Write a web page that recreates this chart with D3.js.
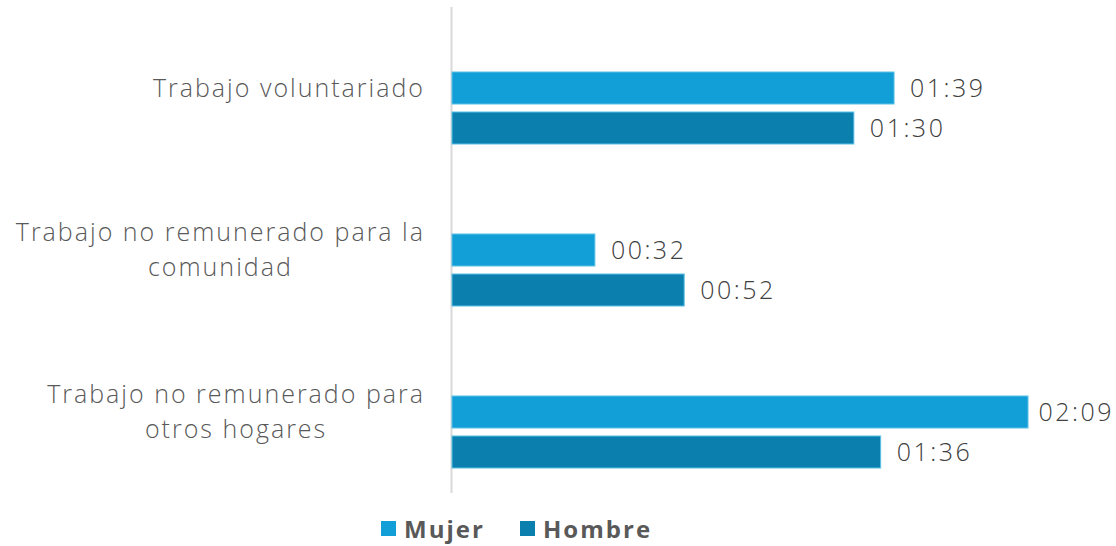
<!DOCTYPE html>
<meta charset="utf-8">
<style>
  body { margin: 0; background: #fff; }
  text { font-family: 'Open Sans', sans-serif; }
  .cat { font-size: 25px; fill: #595959; font-weight: 300; letter-spacing: 2px; }
  .val { font-size: 25px; fill: #404040; font-weight: 300; letter-spacing: 2.5px; }
  .legend text { font-size: 24px; font-weight: bold; fill: #595959; letter-spacing: 2px; }
</style>
<body>
<script src="https://d3js.org/d3.v7.min.js"></script>
<script>
  // categories and series (minutes)
  var categories = [
    ["Trabajo voluntariado"],
    ["Trabajo no remunerado para la", "comunidad"],
    ["Trabajo no remunerado para", "otros hogares"]
  ];
  var series = ["Mujer", "Hombre"];
  var mujer = [99, 32, 129];
  var hombre = [90, 52, 96];
  var colors = ["#129fd7", "#0b80ae"];

  var width = 1116, height = 546;
  var svg = d3.select("body").append("svg")
    .attr("width", width)
    .attr("height", height);

  var y = d3.scaleBand()
    .domain(d3.range(categories.length))
    .range([7, 493]);

  var ySub = d3.scaleBand()
    .domain(series)
    .range([65, 137])
    .paddingInner(0.2);

  var x = d3.scaleLinear()
    .domain([0, 129])
    .range([452, 1028]);

  function fmt(m) {
    return d3.format("02")(Math.floor(m / 60)) + ":" + d3.format("02")(m % 60);
  }

  // vertical axis line
  svg.append("line")
    .attr("x1", 451.5).attr("x2", 451.5)
    .attr("y1", y.range()[0]).attr("y2", y.range()[1])
    .attr("stroke", "#d9d9d9")
    .attr("stroke-width", 2);

  var data = categories.map(function (c, i) {
    return { i: i, label: c, values: [mujer[i], hombre[i]] };
  });

  var groups = svg.selectAll(".grp")
    .data(data)
    .enter().append("g")
    .attr("class", "grp")
    .attr("transform", function (d) { return "translate(0," + y(d.i) + ")"; });

  groups.selectAll("rect")
    .data(function (d) { return d.values.map(function (v, k) { return { v: v, s: series[k], k: k }; }); })
    .enter().append("rect")
    .attr("x", x(0))
    .attr("y", function (d) { return ySub(d.s); })
    .attr("width", function (d) { return x(d.v) - x(0); })
    .attr("height", ySub.bandwidth())
    .attr("fill", function (d) { return colors[d.k]; })
    .attr("stroke", "#5cc0e8")
    .attr("stroke-width", 1);

  // value labels, pulled back inside the chart if they would run off the edge
  groups.selectAll(".val")
    .data(function (d) { return d.values.map(function (v, k) { return { v: v, s: series[k] }; }); })
    .enter().append("text")
    .attr("class", "val")
    .attr("y", function (d) { return ySub(d.s) + ySub.bandwidth() / 2; })
    .attr("dy", "0.36em")
    .text(function (d) { return fmt(d.v); })
    .attr("x", function (d) {
      var w = this.getComputedTextLength();
      return Math.min(x(d.v) + 16, width - w - 2);
    });

  // category labels: block right-aligned at 423, lines centred in the block
  groups.each(function (d) {
    var t = d3.select(this).append("text")
      .attr("class", "cat")
      .attr("text-anchor", "middle");
    var n = d.label.length;
    var spans = d.label.map(function (line, j) {
      return t.append("tspan")
        .attr("x", 0)
        .attr("y", (j - (n - 1) / 2) * 35)
        .attr("dy", "0.35em")
        .text(line);
    });
    var maxW = d3.max(spans, function (s) { return s.node().getComputedTextLength(); });
    t.attr("transform", "translate(" + (425 - maxW / 2) + "," + (y.bandwidth() / 2) + ")");
  });

  // legend
  var legend = svg.append("g").attr("class", "legend");
  var lx = [381, 520];
  series.forEach(function (s, k) {
    legend.append("rect")
      .attr("x", lx[k]).attr("y", 521)
      .attr("width", 15).attr("height", 15)
      .attr("fill", colors[k]);
    legend.append("text")
      .attr("x", lx[k] + 23).attr("y", 538)
      .text(s);
  });
</script>
</body>
